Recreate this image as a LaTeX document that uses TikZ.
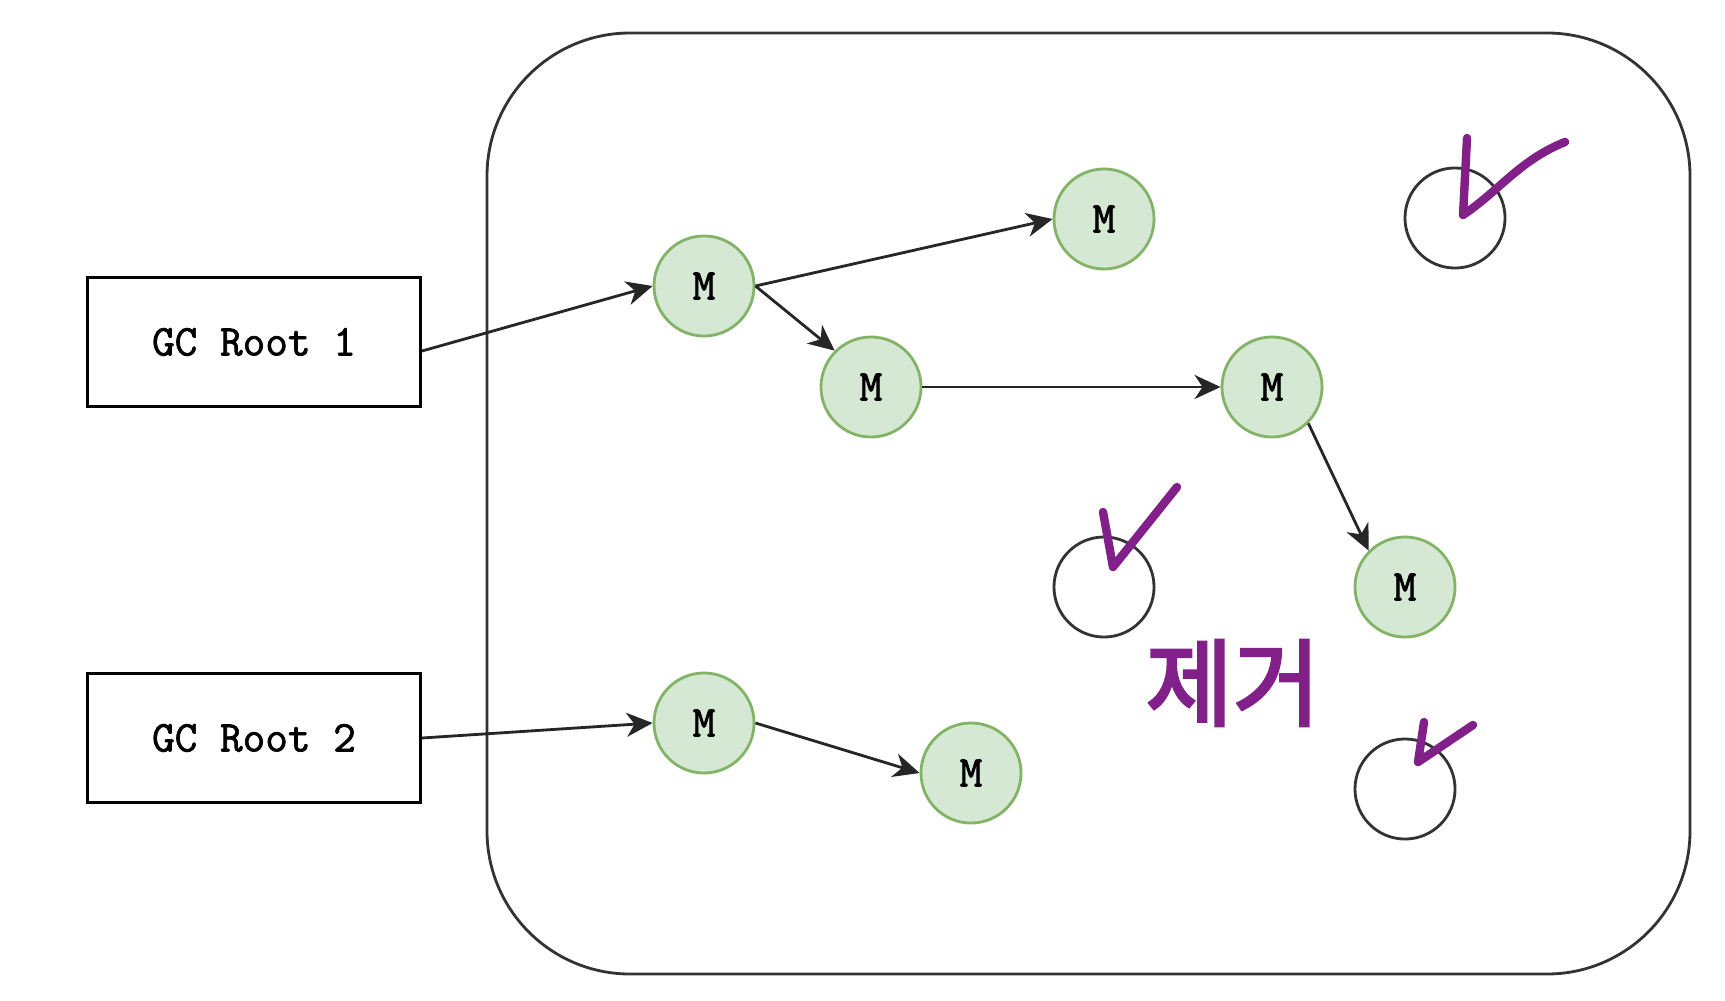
\documentclass[tikz,border=0pt]{standalone}
\usepackage{fontspec}
\setmonofont[FakeBold=1.6]{Latin Modern Mono}
\newfontfamily\krfont[FakeBold=3]{Noto Sans CJK KR}
\usetikzlibrary{arrows.meta}
\definecolor{objfill}{HTML}{D5E8D4}
\definecolor{objdraw}{HTML}{82B366}
\definecolor{marker}{RGB}{130,32,138}
\tikzset{
    rootbox/.style={draw, line width=0.8pt, minimum width=3.33cm, minimum height=1.29cm, font=\ttfamily\fontsize{12.5}{14}\selectfont},
    obj/.style={circle, draw=objdraw, fill=objfill, line width=0.8pt, minimum size=1cm, inner sep=0pt, font=\ttfamily\fontsize{12.5}{14}\selectfont},
    deadobj/.style={circle, draw=black!80, line width=0.8pt, minimum size=1cm, inner sep=0pt},
    ref/.style={-{Stealth[length=2.6mm, width=2.4mm, inset=0.8mm]}, line width=0.8pt, black!85},
    tick/.style={marker, line width=2.4pt, line cap=round, line join=round}
}
\begin{document}
\begin{tikzpicture}[x=0.01cm, y=-0.01cm]
    \useasboundingbox (0,0) rectangle (1725,1000);

    % Heap
    \draw[line width=0.8pt, black!80, rounded corners=1.43cm] (487,33) rectangle (1690,974);

    % Raices
    \node[rootbox] (root1) at (254,342) {GC Root 1};
    \node[rootbox] (root2) at (254,738) {GC Root 2};

    % Objetos alcanzables
    \node[obj] (mA) at (704,286) {M};
    \node[obj] (mB) at (1104,219) {M};
    \node[obj] (mC) at (871,387) {M};
    \node[obj] (mD) at (1272,387) {M};
    \node[obj] (mE) at (1405,587) {M};
    \node[obj] (mF) at (704,723) {M};
    \node[obj] (mG) at (971,773) {M};

    % Objetos no alcanzables
    \node[deadobj] (d1) at (1455,218) {};
    \node[deadobj] (d2) at (1104,587) {};
    \node[deadobj] (d3) at (1405,789) {};

    % Referencias
    \draw[ref] ([yshift=-0.09cm]root1.east) -- (mA.west);
    \draw[ref] (mA.east) -- (mB.west);
    \draw[ref] (mA.east) -- (mC.north west);
    \draw[ref] (mC) -- (mD);
    \draw[ref] (mD.south east) -- (mE.north west);
    \draw[ref] (root2.east) -- (mF.west);
    \draw[ref] (mF.east) -- (mG.west);

    % Marcas a mano
    \draw[tick] (1467,138) -- (1463,215) .. controls (1500,190) and (1520,160) .. (1565,142);
    \draw[tick] (1103,512) -- (1113,567) -- (1177,487);
    \draw[tick] (1424,722) -- (1418,762) -- (1473,725);
    \node[marker, font=\krfont\fontsize{27}{29}\selectfont] (label) at (1233,683) {제거};
\end{tikzpicture}
\end{document}
